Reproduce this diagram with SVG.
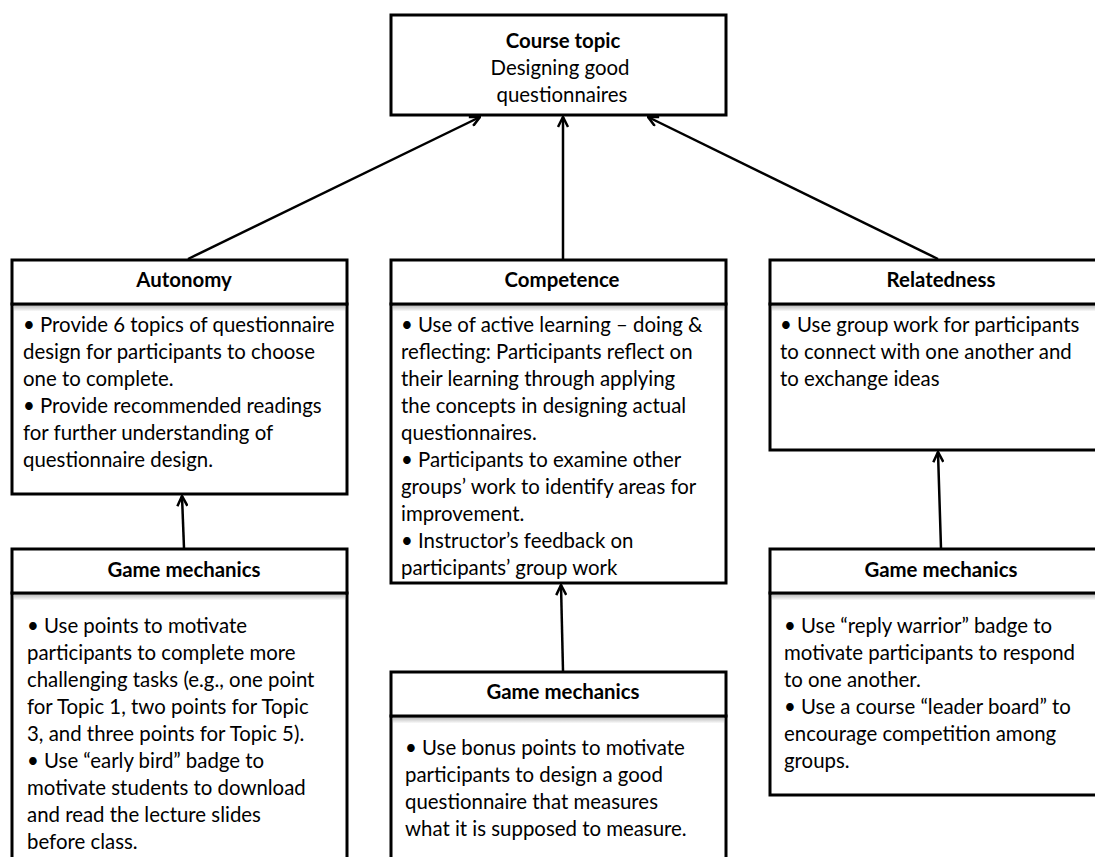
<svg xmlns="http://www.w3.org/2000/svg" width="1095" height="857" viewBox="0 0 1095 857">
<style>
.box{fill:#fff;stroke:#000;stroke-width:3}
.t{font-family:Lato,"Liberation Sans",sans-serif;font-size:20.4px;fill:#000}
.b{font-weight:bold;text-anchor:middle}
.c{text-anchor:middle}
.con{stroke:#000;stroke-width:2.5;fill:none;marker-end:url(#ah)}
</style>
<defs>
<marker id="ah" viewBox="0 0 12 12" refX="11" refY="6" markerWidth="12" markerHeight="12" markerUnits="userSpaceOnUse" orient="auto">
<path d="M1,1 L11,6 L1,11" fill="none" stroke="#000" stroke-width="2.5"/>
</marker>
<linearGradient id="sh" x1="0" y1="0" x2="0" y2="1">
<stop offset="0" stop-color="#bbb"/><stop offset="1" stop-color="#fff"/>
</linearGradient>
</defs>
<rect width="1095" height="857" fill="#fff"/>
<g id="connectors">
<line class="con" x1="188" y1="259" x2="480" y2="117"/>
<line class="con" x1="563" y1="259" x2="563" y2="117"/>
<line class="con" x1="938" y1="259" x2="648" y2="117"/>
<line class="con" x1="184" y1="548" x2="182" y2="496"/>
<line class="con" x1="563" y1="671" x2="561" y2="585"/>
<line class="con" x1="941" y1="548" x2="938" y2="452"/>
</g>
<g id="course-topic">
<rect class="box" x="391" y="15" width="335" height="100"/>
<text class="t b" x="563" y="48">Course topic</text>
<text class="t c" x="560" y="75">Designing good</text>
<text class="t c" x="562" y="102">questionnaires</text>
</g>
<g id="autonomy">
<rect class="box" x="12" y="304" width="335" height="190"/>
<rect x="14" y="305.5" width="331" height="6" fill="url(#sh)"/>
<rect class="box" x="12" y="260" width="335" height="44"/>
<text class="t b" x="184" y="287">Autonomy</text>
<text class="t" x="23" y="332">• Provide 6 topics of questionnaire</text>
<text class="t" x="23" y="359">design for participants to choose</text>
<text class="t" x="23" y="386">one to complete.</text>
<text class="t" x="23" y="413">• Provide recommended readings</text>
<text class="t" x="23" y="440">for further understanding of</text>
<text class="t" x="23" y="467">questionnaire design.</text>
</g>
<g id="competence">
<rect class="box" x="391" y="304" width="335" height="279"/>
<rect x="393" y="305.5" width="331" height="6" fill="url(#sh)"/>
<rect class="box" x="391" y="260" width="335" height="44"/>
<text class="t b" x="562" y="287">Competence</text>
<text class="t" x="401" y="332">• Use of active learning – doing &amp;</text>
<text class="t" x="401" y="359">reflecting: Participants reflect on</text>
<text class="t" x="401" y="386">their learning through applying</text>
<text class="t" x="401" y="413">the concepts in designing actual</text>
<text class="t" x="401" y="440">questionnaires.</text>
<text class="t" x="401" y="467">• Participants to examine other</text>
<text class="t" x="401" y="494">groups’ work to identify areas for</text>
<text class="t" x="401" y="521">improvement.</text>
<text class="t" x="401" y="548">• Instructor’s feedback on</text>
<text class="t" x="401" y="575">participants’ group work</text>
</g>
<g id="relatedness">
<rect class="box" x="770" y="304" width="340" height="146"/>
<rect x="772" y="305.5" width="330" height="6" fill="url(#sh)"/>
<rect class="box" x="770" y="260" width="340" height="44"/>
<text class="t b" x="941" y="287">Relatedness</text>
<text class="t" x="780" y="332">• Use group work for participants</text>
<text class="t" x="780" y="359">to connect with one another and</text>
<text class="t" x="780" y="386">to exchange ideas</text>
</g>
<g id="gm-left">
<rect class="box" x="12" y="593" width="335" height="280"/>
<rect x="14" y="594.5" width="331" height="6" fill="url(#sh)"/>
<rect class="box" x="12" y="549" width="335" height="44"/>
<text class="t b" x="184" y="577">Game mechanics</text>
<text class="t" x="27" y="633">• Use points to motivate</text>
<text class="t" x="27" y="660">participants to complete more</text>
<text class="t" x="27" y="687">challenging tasks (e.g.,  one point</text>
<text class="t" x="27" y="714">for Topic 1, two points for Topic</text>
<text class="t" x="27" y="741">3, and three points for Topic 5).</text>
<text class="t" x="27" y="768">• Use  “early bird” badge to</text>
<text class="t" x="27" y="795">motivate students to download</text>
<text class="t" x="27" y="822">and read the lecture slides</text>
<text class="t" x="27" y="849">before class.</text>
</g>
<g id="gm-middle">
<rect class="box" x="391" y="716" width="335" height="160"/>
<rect x="393" y="717.5" width="331" height="6" fill="url(#sh)"/>
<rect class="box" x="391" y="672" width="335" height="44"/>
<text class="t b" x="563" y="699">Game mechanics</text>
<text class="t" x="405" y="755">• Use bonus points to motivate</text>
<text class="t" x="405" y="782">participants to design a good</text>
<text class="t" x="405" y="809">questionnaire that measures</text>
<text class="t" x="405" y="836">what it is supposed to measure.</text>
</g>
<g id="gm-right">
<rect class="box" x="770" y="593" width="340" height="202"/>
<rect x="772" y="594.5" width="330" height="6" fill="url(#sh)"/>
<rect class="box" x="770" y="549" width="340" height="44"/>
<text class="t b" x="941" y="577">Game mechanics</text>
<text class="t" x="784" y="633">• Use  “reply warrior” badge to</text>
<text class="t" x="784" y="660">motivate participants to respond</text>
<text class="t" x="784" y="687">to one another.</text>
<text class="t" x="784" y="714">• Use a course “leader board” to</text>
<text class="t" x="784" y="741">encourage competition among</text>
<text class="t" x="784" y="768">groups.</text>
</g>
</svg>
